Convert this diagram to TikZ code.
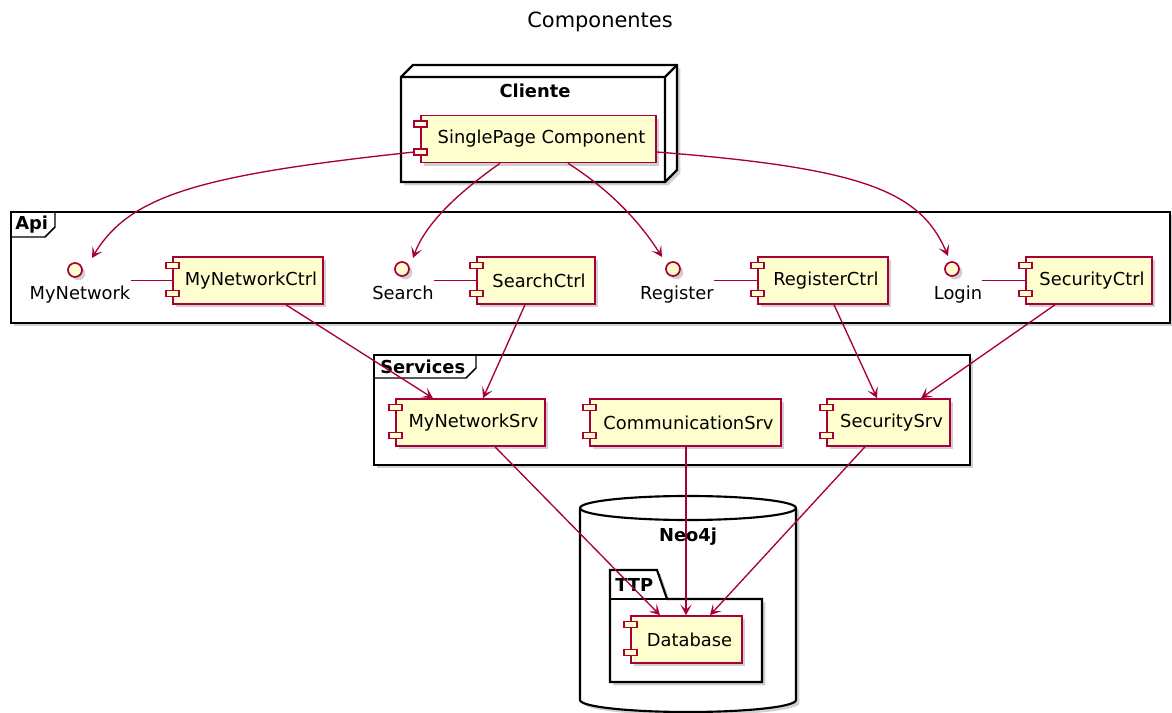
\documentclass[tikz,border=0pt]{standalone}
\usepackage{fontspec}
\setmainfont{DejaVu Sans}
\usetikzlibrary{calc,shadows,arrows.meta}
\definecolor{umlred}{HTML}{A80036}
\definecolor{umlfill}{HTML}{FEFECE}

\tikzset{
  softshadow/.style={drop shadow={shadow xshift=2.5pt, shadow yshift=-2.5pt, opacity=0.3, fill=black!60}},
  comp/.style={draw=umlred, fill=umlfill, line width=1.2pt, minimum height=35.25pt,
    inner sep=0pt, font=\fontsize{13.4}{16}\selectfont, softshadow},
  iconbox/.style={draw=umlred, fill=umlfill, line width=1.1pt},
  iface/.style={circle, draw=umlred, fill=umlfill, line width=1.3pt, minimum size=10.5pt,
    inner sep=0pt, softshadow},
  ilabel/.style={font=\fontsize{13.4}{16}\selectfont, inner sep=0pt, anchor=base},
  container/.style={draw=black, line width=1.6pt, fill=white, softshadow},
  tabline/.style={draw=black, line width=1.1pt},
  ctitle/.style={font=\fontsize{13.4}{16}\selectfont\bfseries, inner sep=0pt, anchor=base},
  link/.style={draw=umlred, line width=1pt, -{Stealth[length=8pt,width=8.5pt,inset=4pt]}},
  tieline/.style={draw=umlred, line width=1pt},
}

% the two small plugs on the left side of a component box
\newcommand\compicons[1]{%
  \draw[iconbox] ($(#1.west)+(-6,-18)$) rectangle ($(#1.west)+(7,-12)$);
  \draw[iconbox] ($(#1.west)+(-6,10)$) rectangle ($(#1.west)+(7,16)$);}

\begin{document}
\begin{tikzpicture}[x=0.75pt, y=-0.75pt]
\useasboundingbox (0,0) rectangle (1172,713);

% title
\node[font=\fontsize{15.7}{19}\selectfont, inner sep=0pt, anchor=base] (title) at (600,28) {Componentes};

% ---- Cliente node (3D box)
\path[container] (401,77) -- (413,65) -- (677,65) -- (677,170) -- (665,182) -- (401,182) -- cycle;
\draw[line width=1.6pt] (401,77) -- (665,77) -- (665,182) (665,77) -- (677,65);
\node[ctitle] (cliente) at (535,98) {Cliente};

% ---- Api frame
\path[container] (11,212) rectangle (1170,323);
\draw[tabline] (11,237) -- (45,237) -- (55,227) -- (55,212);
\node[ctitle, anchor=base west] (api) at (15,230) {Api};

% ---- Services frame
\path[container] (374,355) rectangle (970,465);
\draw[tabline] (374,378) -- (466,378) -- (476,368) -- (476,355);
\node[ctitle, anchor=base west] (services) at (380,373.5) {Services};

% ---- Neo4j database (cylinder)
\path[container] (580,508) -- (580,700)
  arc[start angle=180, end angle=360, x radius=81pt, y radius=9pt] -- (796,508)
  arc[start angle=0, end angle=180, x radius=81pt, y radius=9pt] -- cycle;
\draw[line width=1.6pt] (580,508) arc[start angle=180, end angle=360, x radius=81pt, y radius=9pt];
\node[ctitle] (neo) at (688,541) {Neo4j};

% ---- TTP package
\path[container] (610,599) -- (610,570) -- (657,570) -- (667,599) -- (762,599)
  -- (762,682) -- (610,682) -- cycle;
\draw[line width=1.6pt] (610,599) -- (667,599);
\node[ctitle, anchor=base west] (ttp) at (615,591) {TTP};

% ---- components
\node[comp, minimum width=176.25pt] (sp) at (538.5,139) {\hspace{4.5pt}SinglePage Component};
\compicons{sp}
\node[comp, minimum width=112.5pt] (cMyNet) at (248,280.5) {\hspace{4.5pt}MyNetworkCtrl};
\compicons{cMyNet}
\node[comp, minimum width=88.5pt] (cSearch) at (536,280.5) {\hspace{4.5pt}SearchCtrl};
\compicons{cSearch}
\node[comp, minimum width=97.5pt] (cRegister) at (823,280.5) {\hspace{4.5pt}RegisterCtrl};
\compicons{cRegister}
\node[comp, minimum width=94.5pt] (cSecurity) at (1089,280.5) {\hspace{4.5pt}SecurityCtrl};
\compicons{cSecurity}
\node[comp, minimum width=111.75pt] (sMyNet) at (470.5,422.5) {\hspace{4.5pt}MyNetworkSrv};
\compicons{sMyNet}
\node[comp, minimum width=143.25pt] (sComm) at (685.5,422.5) {\hspace{4.5pt}CommunicationSrv};
\compicons{sComm}
\node[comp, minimum width=92.25pt] (sSecurity) at (888.5,422.5) {\hspace{4.5pt}SecuritySrv};
\compicons{sSecurity}
\node[comp, minimum width=83.25pt] (db) at (686.5,639.5) {\hspace{4.5pt}Database};
\compicons{db}

% ---- interfaces
\node[iface] (iMyNet) at (75,270) {};
\node[ilabel] (lMyNet) at (80,299.5) {MyNetwork};
\node[iface] (iSearch) at (402,269) {};
\node[ilabel] (lSearch) at (403,299.5) {Search};
\node[iface] (iRegister) at (673,269) {};
\node[ilabel] (lRegister) at (677,299.5) {Register};
\node[iface] (iLogin) at (952,269) {};
\node[ilabel] (lLogin) at (958,299.5) {Login};

% interface to controller
\draw[tieline] (lMyNet.east |- cMyNet.west) -- (cMyNet.west);
\draw[tieline] (lSearch.east |- cSearch.west) -- (cSearch.west);
\draw[tieline] (lRegister.east |- cRegister.west) -- (cRegister.west);
\draw[tieline] (lLogin.east |- cSecurity.west) -- (cSecurity.west);

% client uses the interfaces
\draw[link] ($(sp.west)+(-6,13)$) .. controls (200,175) and (130,195) .. ($(iMyNet)+(17,-12)$);
\draw[link] ($(sp.south)+(-38.5,0)$) .. controls (455,195) and (425,225) .. ($(iSearch)+(11,-11)$);
\draw[link] ($(sp.south)+(29.5,0)$) .. controls (610,190) and (640,222) .. ($(iRegister)+(-11,-12)$);
\draw[link] ($(sp.east)+(0,13)$) .. controls (860,168) and (920,190) .. ($(iLogin)+(-4,-13)$);

% controllers to services
\draw[link] ($(cMyNet.south)+(38,0)$) -- ($(sMyNet.north)+(-37.5,0)$);
\draw[link] ($(cSearch.south)+(-11,0)$) -- ($(sMyNet.north)+(12.5,0)$);
\draw[link] ($(cRegister.south)+(11,0)$) -- ($(sSecurity.north)+(-11.5,0)$);
\draw[link] ($(cSecurity.south)+(-34,0)$) -- ($(sSecurity.north)+(32.5,0)$);

% services to database
\draw[link] ($(sMyNet.south)+(24.5,0)$) -- ($(db.north)+(-26.5,0)$);
\draw[link] ($(sComm.south)+(0.5,0)$) -- ($(db.north)+(-0.5,0)$);
\draw[link] ($(sSecurity.south)+(-23.5,0)$) -- ($(db.north)+(23.5,0)$);
\end{tikzpicture}
\end{document}
